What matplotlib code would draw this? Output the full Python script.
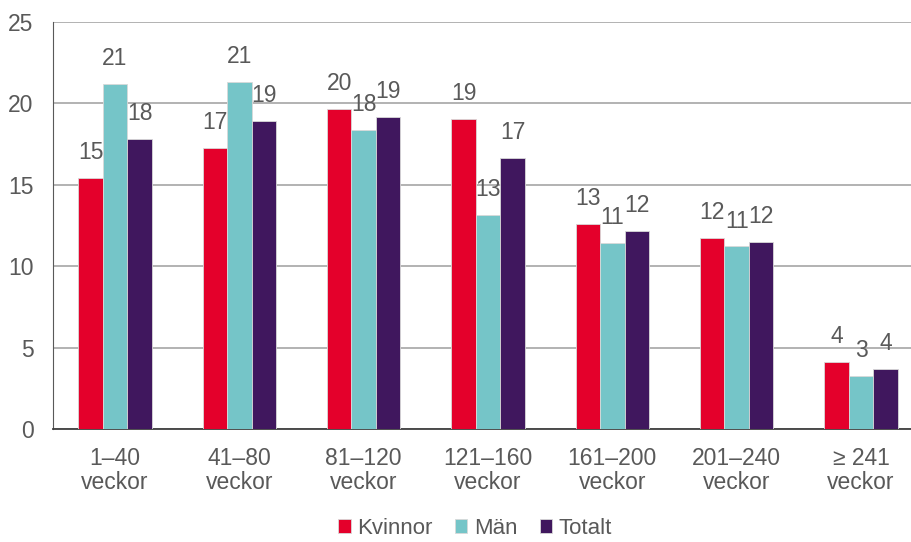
import matplotlib
matplotlib.use('Agg')
import matplotlib.pyplot as plt
import numpy as np

plt.rcParams['font.family'] = ['Liberation Sans', 'DejaVu Sans']

categories = ['1–40\nveckor', '41–80\nveckor', '81–120\nveckor', '121–160\nveckor',
              '161–200\nveckor', '201–240\nveckor', '≥ 241\nveckor']
kvinnor = [15.44, 17.26, 19.66, 19.06, 12.61, 11.76, 4.10]
man = [21.19, 21.30, 18.37, 13.16, 11.42, 11.21, 3.26]
totalt = [17.79, 18.90, 19.16, 16.63, 12.14, 11.51, 3.70]

series = [('Kvinnor', kvinnor, '#E4002B'),
          ('Män', man, '#75C5C8'),
          ('Totalt', totalt, '#40175E')]

txt = '#595959'
fs = 16.5
fig = plt.figure(figsize=(9.12, 5.42), dpi=100)
ax = fig.add_axes([0.058, 0.2085, 0.942, 0.751])

x = np.arange(len(categories))
w = 0.197
for i, (name, vals, col) in enumerate(series):
    pos = x + (i - 1) * w
    ax.bar(pos, vals, w, color=col, edgecolor='#d9d9d9', linewidth=0.6, label=name, zorder=3)
    for px, v in zip(pos, vals):
        ax.annotate(f'{v:.0f}', (px, v), xytext=(0, 10), textcoords='offset points',
                    ha='center', va='bottom', fontsize=fs, color=txt)

ax.set_ylim(0, 25)
ax.set_xlim(-0.5, 6.41)
ax.set_yticks(range(0, 26, 5))
ax.set_xticks(x)
ax.set_xticklabels(categories, fontsize=fs, color=txt, linespacing=1.05)
ax.tick_params(axis='y', labelsize=fs, labelcolor=txt, length=0, pad=14)
ax.tick_params(axis='x', length=0, pad=13)
ax.grid(axis='y', color='#a6a6a6', linewidth=1.2, zorder=0)
for s in ['top', 'right']:
    ax.spines[s].set_visible(False)
ax.spines['left'].set_color('#595959')
ax.spines['bottom'].set_color('#404040')
ax.spines['bottom'].set_linewidth(1.3)

fig.legend(loc='lower center', bbox_to_anchor=(0.521, 0.0), ncol=3, frameon=False,
           fontsize=16, labelcolor=txt, handlelength=0.55, handleheight=0.55,
           handletextpad=0.3, columnspacing=1.0, borderpad=0.05, borderaxespad=0.1)

fig.savefig('out.png', dpi=100)
